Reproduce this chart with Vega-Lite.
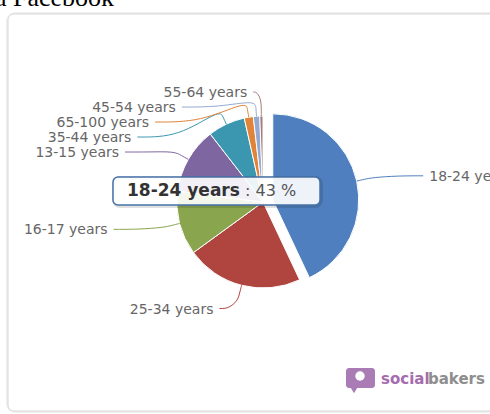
{
  "$schema": "https://vega.github.io/schema/vega-lite/v6.json",
  "width": 490,
  "height": 414,
  "padding": 0,
  "autosize": "none",
  "background": "white",
  "config": {"view": {"stroke": null}, "text": {"font": "DejaVu Sans"}},
  "layer": [
    {
      "data": {"values": [{"title": "a Facebook"}]},
      "layer": [
        {
          "mark": {"type": "text", "align": "left", "baseline": "alphabetic", "font": "Liberation Serif", "fontSize": 26, "color": "#000000"},
          "encoding": {
            "x": {"datum": -268, "type": "quantitative", "scale": {"domain": [-263, 227], "nice": false, "zero": false}, "axis": null},
            "y": {"datum": -196, "type": "quantitative", "scale": {"domain": [-202, 212], "nice": false, "zero": false, "reverse": true}, "axis": null},
            "text": {"field": "title"}
          }
        },
        {
          "mark": {"type": "rect", "fill": "white", "stroke": "#000000", "strokeOpacity": 0.06, "strokeWidth": 4, "cornerRadius": 7},
          "encoding": {
            "x": {"datum": -255, "type": "quantitative", "scale": {"domain": [-263, 227], "nice": false, "zero": false}, "axis": null},
            "x2": {"datum": 245},
            "y": {"datum": -188, "type": "quantitative", "scale": {"domain": [-202, 212], "nice": false, "zero": false, "reverse": true}, "axis": null},
            "y2": {"datum": 209}
          }
        },
        {
          "mark": {"type": "rect", "fill": "white", "stroke": "#d6d6d6", "strokeWidth": 1, "cornerRadius": 6},
          "encoding": {
            "x": {"datum": -255, "type": "quantitative", "scale": {"domain": [-263, 227], "nice": false, "zero": false}, "axis": null},
            "x2": {"datum": 245},
            "y": {"datum": -188, "type": "quantitative", "scale": {"domain": [-202, 212], "nice": false, "zero": false, "reverse": true}, "axis": null},
            "y2": {"datum": 209}
          }
        }
      ]
    },
    {
      "data": {"values": [
        {"age": "18-24 years", "pct": 43, "order": 0},
        {"age": "25-34 years", "pct": 22, "order": 1},
        {"age": "16-17 years", "pct": 12, "order": 2},
        {"age": "13-15 years", "pct": 12.5, "order": 3},
        {"age": "35-44 years", "pct": 7, "order": 4},
        {"age": "65-100 years", "pct": 1.7, "order": 5},
        {"age": "45-54 years", "pct": 1.2, "order": 6},
        {"age": "55-64 years", "pct": 0.6, "order": 7}
      ]},
      "transform": [
        {"window": [{"op": "sum", "field": "pct", "as": "cum"}], "sort": [{"field": "order"}], "frame": [null, 0]},
        {"calculate": "datum.cum - datum.pct", "as": "start"},
        {"calculate": "(datum.cum - datum.pct / 2) * 2 * PI / 100", "as": "mid"},
        {"calculate": "datum.order == 0 ? 10 : 0", "as": "off"},
        {"calculate": "datum.off * sin(datum.mid)", "as": "ox"},
        {"calculate": "-datum.off * cos(datum.mid)", "as": "oy"},
        {"calculate": "datum.mid < PI ? 1 : -1", "as": "side"},
        {"calculate": "-cos(datum.mid) * 110", "as": "ideal"},
        {"window": [{"op": "row_number", "as": "rn"}], "groupby": ["side"], "sort": [{"field": "ideal"}]},
        {"calculate": "datum.ideal - 15 * (datum.rn - 1)", "as": "t"},
        {"window": [{"op": "max", "field": "t", "as": "mt"}], "groupby": ["side"], "sort": [{"field": "ideal"}], "frame": [null, 0]},
        {"calculate": "datum.mt + 15 * (datum.rn - 1)", "as": "ly0"},
        {"calculate": "datum.side * (147 * sqrt(max(0, 1 - pow(datum.ly0 / 110, 2))) + 13) + datum.ox", "as": "lx"},
        {"calculate": "datum.ly0 + datum.oy", "as": "ly"}
      ],
      "layer": [
        {
          "mark": {"type": "arc", "outerRadius": 86, "stroke": "white", "strokeWidth": 1},
          "encoding": {
            "theta": {"field": "start", "type": "quantitative", "scale": {"domain": [0, 100]}},
            "theta2": {"field": "cum"},
            "x": {"field": "ox", "type": "quantitative", "scale": {"domain": [-263, 227], "nice": false, "zero": false}, "axis": null},
            "y": {"field": "oy", "type": "quantitative", "scale": {"domain": [-202, 212], "nice": false, "zero": false, "reverse": true}, "axis": null},
            "color": {"field": "age", "type": "nominal", "scale": {"domain": ["18-24 years", "25-34 years", "16-17 years", "13-15 years", "35-44 years", "65-100 years", "45-54 years", "55-64 years"], "range": ["#4F7FBF", "#B0443F", "#89A54E", "#7E67A0", "#3B97B0", "#E0843A", "#95A9D0", "#A47D7C"]}, "legend": null}
          }
        },
        {
          "transform": [
            {"calculate": "datum.lx - datum.side * 6", "as": "sx"},
            {"calculate": "datum.ox + sin(datum.mid) * 94", "as": "p1x"},
            {"calculate": "datum.oy - cos(datum.mid) * 94", "as": "p1y"},
            {"calculate": "datum.ox + sin(datum.mid) * 86", "as": "p2x"},
            {"calculate": "datum.oy - cos(datum.mid) * 86", "as": "p2y"},
            {"calculate": "[0, 1, 2, 3, 4]", "as": "pts"},
            {"flatten": ["pts"], "as": ["pi"]},
            {"calculate": "datum.pi == 0 ? datum.sx : datum.pi == 1 ? datum.sx + 0.5 * (2 * datum.p1x - datum.p2x - datum.sx) : datum.pi == 2 ? 2 * datum.p1x - datum.p2x : datum.pi == 3 ? datum.p1x : datum.p2x", "as": "px"},
            {"calculate": "datum.pi == 0 ? datum.ly : datum.pi == 1 ? datum.ly : datum.pi == 2 ? 2 * datum.p1y - datum.p2y : datum.pi == 3 ? datum.p1y : datum.p2y", "as": "py"}
          ],
          "mark": {"type": "line", "interpolate": "basis", "strokeWidth": 1},
          "encoding": {
            "x": {"field": "px", "type": "quantitative", "scale": {"domain": [-263, 227], "nice": false, "zero": false}, "axis": null},
            "y": {"field": "py", "type": "quantitative", "scale": {"domain": [-202, 212], "nice": false, "zero": false, "reverse": true}, "axis": null},
            "detail": {"field": "age"},
            "order": {"field": "pi"},
            "color": {"field": "age", "type": "nominal", "scale": {"domain": ["18-24 years", "25-34 years", "16-17 years", "13-15 years", "35-44 years", "65-100 years", "45-54 years", "55-64 years"], "range": ["#4F7FBF", "#B0443F", "#89A54E", "#7E67A0", "#3B97B0", "#E0843A", "#95A9D0", "#A47D7C"]}, "legend": null}
          }
        },
        {
          "transform": [{"filter": "datum.side < 0"}],
          "mark": {"type": "text", "align": "right", "baseline": "middle", "fontSize": 14, "color": "#666666", "dy": 1},
          "encoding": {
            "x": {"field": "lx", "type": "quantitative", "scale": {"domain": [-263, 227], "nice": false, "zero": false}, "axis": null},
            "y": {"field": "ly", "type": "quantitative", "scale": {"domain": [-202, 212], "nice": false, "zero": false, "reverse": true}, "axis": null},
            "text": {"field": "age"}
          }
        },
        {
          "transform": [{"filter": "datum.side > 0"}],
          "mark": {"type": "text", "align": "left", "baseline": "middle", "fontSize": 14, "color": "#666666", "dy": 1},
          "encoding": {
            "x": {"field": "lx", "type": "quantitative", "scale": {"domain": [-263, 227], "nice": false, "zero": false}, "axis": null},
            "y": {"field": "ly", "type": "quantitative", "scale": {"domain": [-202, 212], "nice": false, "zero": false, "reverse": true}, "axis": null},
            "text": {"field": "age"}
          }
        },
        {
          "transform": [{"filter": "datum.order == 0"}],
          "mark": {"type": "rect", "fill": "none", "stroke": "#000000", "strokeOpacity": 0.12, "strokeWidth": 4, "cornerRadius": 6},
          "encoding": {
            "x": {"datum": -149, "type": "quantitative", "scale": {"domain": [-263, 227], "nice": false, "zero": false}, "axis": null},
            "x2": {"datum": 58},
            "y": {"datum": -24, "type": "quantitative", "scale": {"domain": [-202, 212], "nice": false, "zero": false, "reverse": true}, "axis": null},
            "y2": {"datum": 4}
          }
        },
        {
          "transform": [{"filter": "datum.order == 0"}],
          "mark": {"type": "rect", "fill": "white", "fillOpacity": 0.9, "stroke": "#4572A7", "strokeWidth": 1.5, "cornerRadius": 5},
          "encoding": {
            "x": {"datum": -150, "type": "quantitative", "scale": {"domain": [-263, 227], "nice": false, "zero": false}, "axis": null},
            "x2": {"datum": 57},
            "y": {"datum": -25, "type": "quantitative", "scale": {"domain": [-202, 212], "nice": false, "zero": false, "reverse": true}, "axis": null},
            "y2": {"datum": 3}
          }
        },
        {
          "transform": [{"filter": "datum.order == 0"}],
          "mark": {"type": "text", "align": "left", "baseline": "middle", "fontSize": 17, "fontWeight": "bold", "color": "#333333"},
          "encoding": {
            "x": {"datum": -136, "type": "quantitative", "scale": {"domain": [-263, 227], "nice": false, "zero": false}, "axis": null},
            "y": {"datum": -11, "type": "quantitative", "scale": {"domain": [-202, 212], "nice": false, "zero": false, "reverse": true}, "axis": null},
            "text": {"field": "age"}
          }
        },
        {
          "transform": [{"filter": "datum.order == 0"}, {"calculate": "': ' + datum.pct + ' %'", "as": "tip"}],
          "mark": {"type": "text", "align": "left", "baseline": "middle", "fontSize": 16, "color": "#555555"},
          "encoding": {
            "x": {"datum": -18, "type": "quantitative", "scale": {"domain": [-263, 227], "nice": false, "zero": false}, "axis": null},
            "y": {"datum": -11, "type": "quantitative", "scale": {"domain": [-202, 212], "nice": false, "zero": false, "reverse": true}, "axis": null},
            "text": {"field": "tip"}
          }
        }
      ]
    },
    {
      "data": {"values": [{"a": "social", "b": "bakers"}]},
      "layer": [
        {
          "mark": {"type": "rect", "fill": "#A97CB5", "cornerRadius": 3},
          "encoding": {
            "x": {"datum": 83, "type": "quantitative", "scale": {"domain": [-263, 227], "nice": false, "zero": false}, "axis": null},
            "x2": {"datum": 112},
            "y": {"datum": 166, "type": "quantitative", "scale": {"domain": [-202, 212], "nice": false, "zero": false, "reverse": true}, "axis": null},
            "y2": {"datum": 186}
          }
        },
        {
          "mark": {"type": "point", "shape": "circle", "filled": true, "fill": "white", "opacity": 1, "size": 90},
          "encoding": {
            "x": {"datum": 97, "type": "quantitative", "scale": {"domain": [-263, 227], "nice": false, "zero": false}, "axis": null},
            "y": {"datum": 174, "type": "quantitative", "scale": {"domain": [-202, 212], "nice": false, "zero": false, "reverse": true}, "axis": null}
          }
        },
        {
          "mark": {"type": "point", "shape": "triangle-down", "filled": true, "fill": "#A97CB5", "opacity": 1, "size": 60},
          "encoding": {
            "x": {"datum": 91, "type": "quantitative", "scale": {"domain": [-263, 227], "nice": false, "zero": false}, "axis": null},
            "y": {"datum": 188, "type": "quantitative", "scale": {"domain": [-202, 212], "nice": false, "zero": false, "reverse": true}, "axis": null}
          }
        },
        {
          "mark": {"type": "text", "align": "left", "baseline": "middle", "fontSize": 15, "fontWeight": "bold", "color": "#A56CAE"},
          "encoding": {
            "x": {"datum": 118, "type": "quantitative", "scale": {"domain": [-263, 227], "nice": false, "zero": false}, "axis": null},
            "y": {"datum": 177, "type": "quantitative", "scale": {"domain": [-202, 212], "nice": false, "zero": false, "reverse": true}, "axis": null},
            "text": {"field": "a"}
          }
        },
        {
          "mark": {"type": "text", "align": "left", "baseline": "middle", "fontSize": 15, "fontWeight": "bold", "color": "#8E8E8E"},
          "encoding": {
            "x": {"datum": 165, "type": "quantitative", "scale": {"domain": [-263, 227], "nice": false, "zero": false}, "axis": null},
            "y": {"datum": 177, "type": "quantitative", "scale": {"domain": [-202, 212], "nice": false, "zero": false, "reverse": true}, "axis": null},
            "text": {"field": "b"}
          }
        }
      ]
    }
  ]
}
